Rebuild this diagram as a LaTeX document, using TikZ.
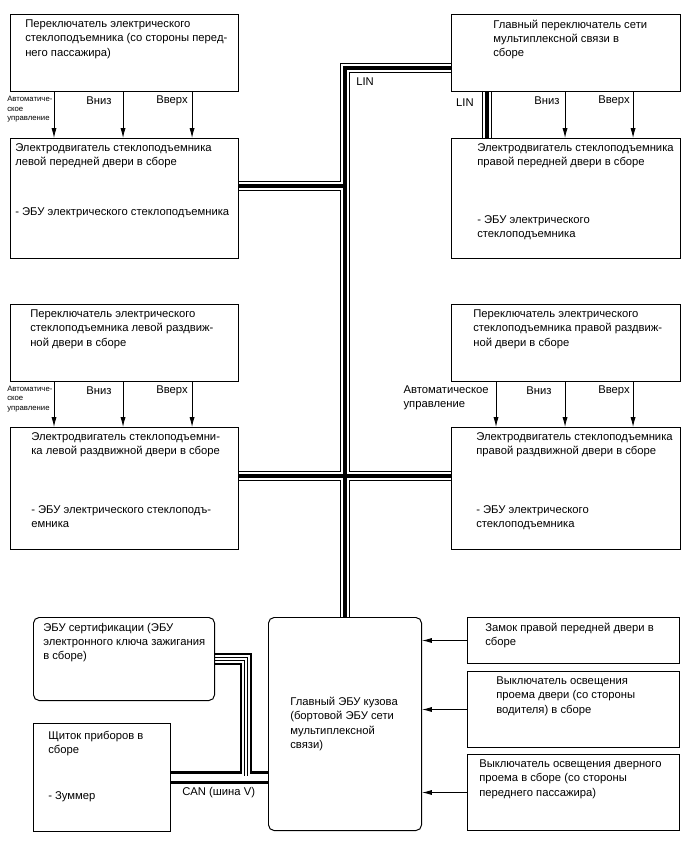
\documentclass[tikz,border=0pt]{standalone}
\usepackage{fontspec}
\setmainfont{Liberation Sans}
\usepackage{tikz}
\usetikzlibrary{arrows.meta,positioning,calc,backgrounds}
\tikzset{
  unitbox/.style={rectangle, draw=black, line width=0.7pt, anchor=north west,
    inner sep=0pt},
  ecubox/.style={unitbox, rounded corners=4pt},
  boxtext/.style={anchor=north west, inner sep=0pt, align=left, yshift=-0.14cm,
    font=\fontsize{8}{10.1}\selectfont},
  siglabel/.style={inner sep=0pt, align=left, font=\fontsize{8}{10.1}\selectfont},
  tinylabel/.style={inner sep=0pt, align=left, font=\fontsize{5.5}{6.7}\selectfont},
  sigarrow/.style={-{Latex[length=7pt,width=3.6pt]}, line width=0.6pt},
  bus/.style={line width=0.7pt, double=white, double distance=5.6pt,
    postaction={draw, line width=2.6pt}},
  canbus/.style={line width=1.6pt, double=white, double distance=5.4pt,
    postaction={draw, line width=0.45pt, double=white, double distance=1.8pt}},
}

\begin{document}
\begin{tikzpicture}[x=0.025cm, y=-0.025cm]
  \useasboundingbox (0,0) rectangle (688,852);

  % front doors
  \node[unitbox, minimum width=5.7cm, minimum height=1.925cm,
    label={[boxtext, xshift=0.375cm]north west:{Переключатель электрического\\стеклоподъемника (со стороны перед-\\него пассажира)}}]
    (swLF) at (10,14) {};
  \node[unitbox, minimum width=5.7cm, minimum height=3.0cm,
    label={[boxtext, xshift=0.125cm]north west:{Электродвигатель стеклоподъемника\\левой передней двери в сборе\\[25pt]- ЭБУ электрического стеклоподъемника}}]
    (mLF) at (10,138) {};
  \node[unitbox, minimum width=5.725cm, minimum height=1.925cm,
    label={[boxtext, xshift=1.05cm]north west:{Главный переключатель сети\\мультиплексной связи в\\сборе}}]
    (msw) at (451,14) {};
  \node[unitbox, minimum width=5.725cm, minimum height=3.0cm,
    label={[boxtext, xshift=0.65cm]north west:{Электродвигатель стеклоподъемника\\правой передней двери в сборе\\[30.7pt]- ЭБУ электрического\\стеклоподъемника}}]
    (mRF) at (451,138) {};

  % sliding doors
  \node[unitbox, minimum width=5.7cm, minimum height=1.925cm,
    label={[boxtext, xshift=0.5cm]north west:{Переключатель электрического\\стеклоподъемника левой раздвиж-\\ной двери в сборе}}]
    (swLS) at (10,304) {};
  \node[unitbox, minimum width=5.7cm, minimum height=3.05cm,
    label={[boxtext, xshift=0.525cm]north west:{Электродвигатель стеклоподъемни-\\ка левой раздвижной двери в сборе\\[31.7pt]- ЭБУ электрического стеклоподъ-\\емника}}]
    (mLS) at (10,427) {};
  \node[unitbox, minimum width=5.725cm, minimum height=1.925cm,
    label={[boxtext, xshift=0.55cm]north west:{Переключатель электрического\\стеклоподъемника правой раздвиж-\\ной двери в сборе}}]
    (swRS) at (451,304) {};
  \node[unitbox, minimum width=5.725cm, minimum height=3.05cm,
    label={[boxtext, xshift=0.625cm]north west:{Электродвигатель стеклоподъемника\\правой раздвижной двери в сборе\\[31.7pt]- ЭБУ электрического\\стеклоподъемника}}]
    (mRS) at (451,427) {};

  % body ecu and friends
  \node[ecubox, minimum width=4.525cm, minimum height=2.075cm,
    label={[boxtext, xshift=0.25cm]north west:{ЭБУ сертификации (ЭБУ\\электронного ключа зажигания\\в сборе)}}]
    (cert) at (33,617) {};
  \node[unitbox, minimum width=3.425cm, minimum height=2.7cm,
    label={[boxtext, xshift=0.375cm, yshift=-0.05cm]north west:{Щиток приборов в\\сборе\\[22.5pt]- Зуммер}}]
    (meter) at (33,723) {};
  \node[ecubox, minimum width=3.825cm, minimum height=5.325cm,
    label={[boxtext, anchor=west, xshift=0.55cm, yshift=0.14cm]west:{Главный ЭБУ кузова\\(бортовой ЭБУ сети\\мультиплексной\\связи)}}]
    (bcm) at (268,617) {};
  \node[unitbox, minimum width=5.3cm, minimum height=1.15cm,
    label={[boxtext, xshift=0.45cm]north west:{Замок правой передней двери в\\сборе}}]
    (lock) at (467,617) {};
  \node[unitbox, minimum width=5.3cm, minimum height=1.9cm,
    label={[boxtext, xshift=0.725cm]north west:{Выключатель освещения\\проема двери (со стороны\\водителя) в сборе}}]
    (lampDrv) at (467,671) {};
  \node[unitbox, minimum width=5.3cm, minimum height=1.9cm,
    label={[boxtext, xshift=0.3cm]north west:{Выключатель освещения дверного\\проема в сборе (со стороны\\переднего пассажира)}}]
    (lampPas) at (467,754) {};

  % switch signals
  \draw[sigarrow] ([xshift=1.1cm]swLF.south west) -- ([xshift=1.1cm]mLF.north west)
    node[tinylabel, pos=0.38, anchor=east, xshift=-0.03cm] {Автоматиче-\\ское\\управление};
  \draw[sigarrow] ([xshift=2.825cm]swLF.south west) -- ([xshift=2.825cm]mLF.north west)
    node[siglabel, pos=0.19, anchor=east, xshift=-0.275cm] {Вниз};
  \draw[sigarrow] ([xshift=4.55cm]swLF.south west) -- ([xshift=4.55cm]mLF.north west)
    node[siglabel, pos=0.19, anchor=east, xshift=-0.1cm] {Вверх};
  \draw[sigarrow] ([xshift=2.85cm]msw.south west) -- ([xshift=2.85cm]mRF.north west)
    node[siglabel, pos=0.19, anchor=east, xshift=-0.125cm] {Вниз};
  \draw[sigarrow] ([xshift=4.55cm]msw.south west) -- ([xshift=4.55cm]mRF.north west)
    node[siglabel, pos=0.19, anchor=east, xshift=-0.075cm] {Вверх};
  \draw[sigarrow] ([xshift=1.1cm]swLS.south west) -- ([xshift=1.1cm]mLS.north west)
    node[tinylabel, pos=0.38, anchor=east, xshift=-0.03cm] {Автоматиче-\\ское\\управление};
  \draw[sigarrow] ([xshift=2.825cm]swLS.south west) -- ([xshift=2.825cm]mLS.north west)
    node[siglabel, pos=0.2, anchor=east, xshift=-0.275cm] {Вниз};
  \draw[sigarrow] ([xshift=4.55cm]swLS.south west) -- ([xshift=4.55cm]mLS.north west)
    node[siglabel, pos=0.2, anchor=east, xshift=-0.1cm] {Вверх};
  \draw[sigarrow] ([xshift=1.125cm]swRS.south west) -- ([xshift=1.125cm]mRS.north west)
    node[siglabel, pos=0.35, anchor=east, xshift=-0.175cm] {Автоматическое\\управление};
  \draw[sigarrow] ([xshift=2.85cm]swRS.south west) -- ([xshift=2.85cm]mRS.north west)
    node[siglabel, pos=0.2, anchor=east, xshift=-0.325cm] {Вниз};
  \draw[sigarrow] ([xshift=4.55cm]swRS.south west) -- ([xshift=4.55cm]mRS.north west)
    node[siglabel, pos=0.2, anchor=east, xshift=-0.075cm] {Вверх};

  \draw[sigarrow] (lock.west) -- (lock.west -| bcm.east);
  \draw[sigarrow] (lampDrv.west) -- (lampDrv.west -| bcm.east);
  \draw[sigarrow] (lampPas.west) -- (lampPas.west -| bcm.east);

  % LIN and CAN lines
  \coordinate (linTop) at (345,68);
  \coordinate (jFront) at (345,186);
  \coordinate (jSlide) at (345,476);
  \coordinate (jCan) at (246,777);
  \begin{scope}[on background layer]
    \draw[bus] (msw.west |- linTop) -- (linTop) -- (linTop |- bcm.north)
      (mLF.east |- jFront) -- (jFront)
      (mLS.east |- jSlide) -- (mRS.west |- jSlide)
      ([xshift=0.9cm]msw.south west) -- ([xshift=0.9cm]mRF.north west);
    \draw[canbus] (cert.east) -| (jCan)
      (meter.east) -- (meter.east -| bcm.west);
  \end{scope}
  \node[siglabel, anchor=north west] (linMain) at (356,77) {LIN};
  \node[siglabel, anchor=east] (linSw) at (474,103) {LIN};
  \node[siglabel, anchor=west] (canName) at (182,793) {CAN (шина V)};
\end{tikzpicture}
\end{document}
